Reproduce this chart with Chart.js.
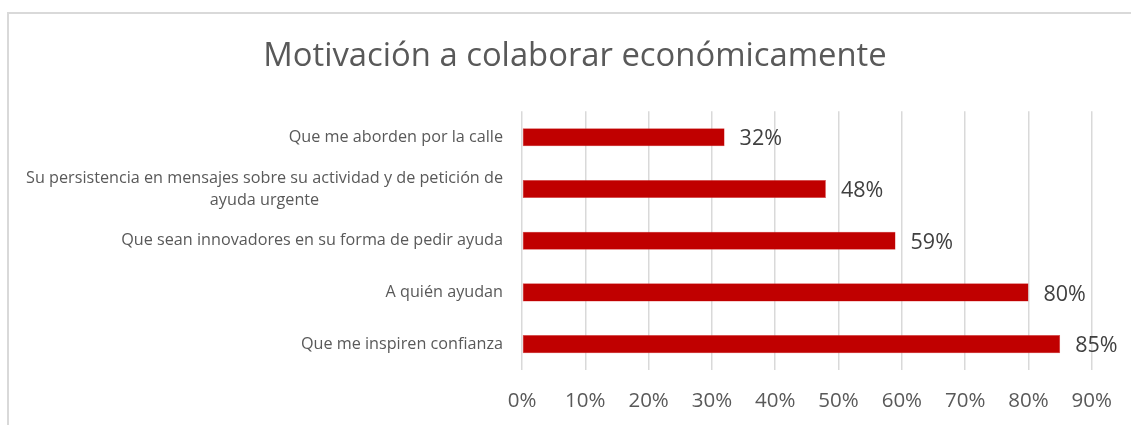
<!DOCTYPE html>
<html lang="es">
<head>
<meta charset="UTF-8">
<title>Motivación a colaborar económicamente</title>
<script src="https://cdn.jsdelivr.net/npm/chart.js"></script>
<style>
  html, body { margin: 0; padding: 0; background: #fff; overflow: hidden; }
  #frame { position: absolute; left: 7px; top: 12px; width: 1200px; height: 500px; border: 2px solid #d9d9d9; }
  #wrap { position: absolute; left: 0; top: 0; width: 1131px; height: 425px; }
</style>
</head>
<body>
<div id="frame"></div>
<div id="wrap"><canvas id="chart"></canvas></div>
<script>
// Datos de la encuesta
const categorias = [
  'Que me aborden por la calle',
  ['Su persistencia en mensajes sobre su actividad y de petición de', 'ayuda urgente'],
  'Que sean innovadores en su forma de pedir ayuda',
  'A quién ayudan',
  'Que me inspiren confianza'
];
const porcentajes = [32, 48, 59, 80, 85];
const ticksX = [0, 10, 20, 30, 40, 50, 60, 70, 80, 90];

const FONT = '"Open Sans", sans-serif';
const GRIS = '#595959';

// Etiquetas de categorías: bloque alineado a la derecha, líneas centradas (como Excel)
const etiquetasY = {
  id: 'etiquetasY',
  afterDraw(chart) {
    const ctx = chart.ctx;
    const y = chart.scales.y;
    const derecha = chart.chartArea.left - 19;
    ctx.save();
    ctx.font = '16.2px ' + FONT;
    ctx.fillStyle = GRIS;
    ctx.textBaseline = 'middle';
    ctx.textAlign = 'center';
    categorias.forEach((c, i) => {
      const lineas = Array.isArray(c) ? c : [c];
      const anchoMax = Math.max(...lineas.map(l => ctx.measureText(l).width));
      const cx = derecha - anchoMax / 2;
      const alto = 22;
      const cy = y.getPixelForValue(i);
      lineas.forEach((l, j) => {
        ctx.fillText(l, cx, cy + (j - (lineas.length - 1) / 2) * alto);
      });
    });
    ctx.restore();
  }
};

// Valores al final de cada barra
const valores = {
  id: 'valores',
  afterDatasetsDraw(chart) {
    const ctx = chart.ctx;
    const meta = chart.getDatasetMeta(0);
    ctx.save();
    ctx.font = '21.5px ' + FONT;
    ctx.fillStyle = '#404040';
    ctx.textBaseline = 'middle';
    ctx.textAlign = 'left';
    meta.data.forEach((bar, i) => {
      ctx.fillText(porcentajes[i] + '%', bar.x + 15, bar.y + 2);
    });
    ctx.restore();
  }
};

new Chart(document.getElementById('chart'), {
  type: 'bar',
  data: {
    labels: categorias,
    datasets: [{
      data: porcentajes,
      backgroundColor: '#C00000',
      borderColor: '#d94a4a',
      borderWidth: 0.5,
      borderSkipped: false,
      barPercentage: 0.35,
      categoryPercentage: 1
    }]
  },
  options: {
    indexAxis: 'y',
    responsive: true,
    maintainAspectRatio: false,
    animation: false,
    layout: { padding: { left: 58, right: 39, top: 0, bottom: 0 } },
    plugins: {
      legend: { display: false },
      tooltip: { enabled: false },
      title: {
        display: true,
        text: 'Motivación a colaborar económicamente',
        color: GRIS,
        font: { family: FONT, size: 32.8, weight: 'normal' },
        padding: { top: 37, bottom: 35 }
      }
    },
    scales: {
      x: {
        min: 0,
        max: 90,
        afterBuildTicks(scale) { scale.ticks = ticksX.map(v => ({ value: v })); },
        afterFit(scale) { scale.height = 55; },
        grid: { color: '#d9d9d9', lineWidth: 1.5, drawTicks: false },
        border: { display: false },
        ticks: {
          padding: 19,
          color: GRIS,
          font: { family: FONT, size: 20.5 },
          callback: v => v + '%'
        }
      },
      y: {
        afterFit(scale) { scale.width = 522 - 58; },
        grid: { display: false },
        border: { display: false },
        ticks: { display: false }
      }
    }
  },
  plugins: [etiquetasY, valores]
});
</script>
</body>
</html>
